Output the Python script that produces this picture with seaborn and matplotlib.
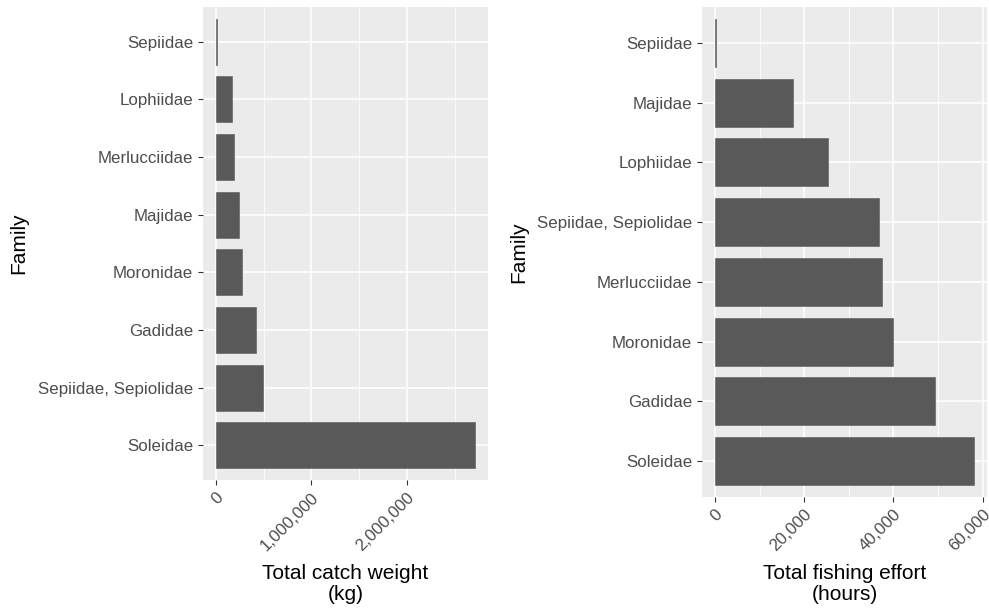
import matplotlib
matplotlib.use("Agg")
import matplotlib.pyplot as plt
from matplotlib.ticker import FixedLocator, FuncFormatter, MultipleLocator
import seaborn as sns

# Total catch weight per family (kg)
catch_families = ["Sepiidae", "Lophiidae", "Merlucciidae", "Majidae", "Moronidae",
                  "Gadidae", "Sepiidae, Sepiolidae", "Soleidae"]
catch_kg = [8000, 168000, 189000, 241000, 272000, 419000, 493000, 2715000]
catch_ticks = [0, 1_000_000, 2_000_000]
catch_minor = 500_000

# Total fishing effort per family (hours)
effort_families = ["Sepiidae", "Majidae", "Lophiidae", "Sepiidae, Sepiolidae",
                   "Merlucciidae", "Moronidae", "Gadidae", "Soleidae"]
effort_hours = [250, 17480, 25330, 36760, 37430, 39890, 49300, 58050]
effort_ticks = [0, 20_000, 40_000, 60_000]
effort_minor = 10_000

sns.set_theme(style="darkgrid")
plt.rcParams["font.family"] = ["Liberation Sans", "DejaVu Sans"]

W, H, DPI = 989, 609, 100
fig = plt.figure(figsize=(W / DPI, H / DPI), dpi=DPI)
fig.patch.set_facecolor("white")

BAR = "#595959"
TICK_TXT = "#4D4D4D"
TICK_LINE = "#333333"


def px_axes(x0, x1, y0, y1):
    return fig.add_axes([x0 / W, 1 - y1 / H, (x1 - x0) / W, (y1 - y0) / H])


def draw_panel(ax, families, values, ticks, minor, xlabel, ylabel_x, xlabel_y):
    ax.set_facecolor("#EBEBEB")
    sns.barplot(x=values, y=families, orient="h", color=BAR, saturation=1,
                width=0.8, edgecolor=BAR, linewidth=0.4, ax=ax)
    vmax = max(values)
    ax.set_xlim(-0.05 * vmax, 1.05 * vmax)
    n = len(families)
    ax.set_ylim(n - 1 + 0.6, -0.6)
    ax.set_axisbelow(True)
    for s in ax.spines.values():
        s.set_visible(False)
    ax.xaxis.set_major_locator(FixedLocator(ticks))
    ax.xaxis.set_minor_locator(MultipleLocator(minor))
    ax.xaxis.set_major_formatter(FuncFormatter(lambda v, p: f"{v:,.0f}"))
    ax.grid(True, which="major", color="white", linewidth=1.1)
    ax.grid(True, which="minor", axis="x", color="white", linewidth=0.55)
    ax.tick_params(axis="x", which="major", bottom=True)
    ax.tick_params(axis="y", which="major", left=True)
    ax.tick_params(axis="both", which="major", length=3.8, width=0.8,
                   color=TICK_LINE, labelcolor=TICK_TXT, labelsize=12.2, pad=3.2)
    ax.tick_params(axis="x", which="minor", length=0)
    for lab in ax.get_xticklabels():
        lab.set_rotation(45)
        lab.set_ha("right")
        lab.set_va("top")
        lab.set_rotation_mode("anchor")
    ax.set_xlabel("")
    ax.set_ylabel("")
    pos = ax.get_position()
    cx = pos.x0 + pos.width / 2
    cy = pos.y0 + pos.height / 2
    fig.text(cx, xlabel_y, xlabel, ha="center", va="bottom", fontsize=15,
             linespacing=1.12, color="black")
    fig.text(ylabel_x, cy, "Family", rotation=90, ha="center", va="center",
             fontsize=15, color="black")


ax1 = px_axes(203, 488, 7, 480)
draw_panel(ax1, catch_families, catch_kg, catch_ticks, catch_minor,
           "Total catch weight\n(kg)", 19 / W, 5 / H)

ax2 = px_axes(702, 987, 7, 497)
draw_panel(ax2, effort_families, effort_hours, effort_ticks, effort_minor,
           "Total fishing effort\n(hours)", 519 / W, 5 / H)

fig.savefig("out.png", dpi=DPI, facecolor="white")
